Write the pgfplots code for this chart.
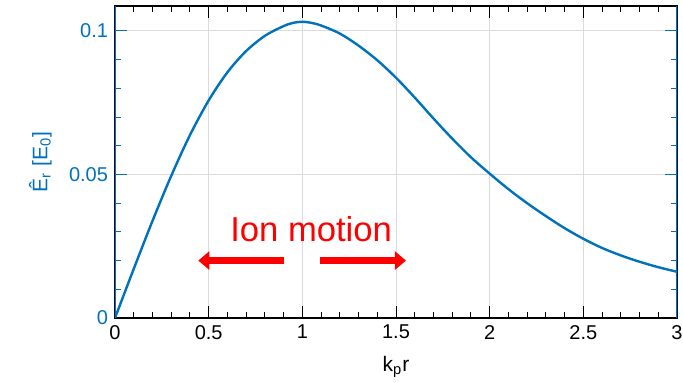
\documentclass[border=0pt]{standalone}
\usepackage{fontspec}
\setmainfont{Liberation Sans}
\usepackage{pgfplots}
\pgfplotsset{compat=1.18}
\usetikzlibrary{arrows.meta}
\definecolor{mblue}{rgb}{0.0,0.447,0.741}
\definecolor{gridgray}{gray}{0.86}
\begin{document}
\begin{tikzpicture}
\begin{axis}[
  scale only axis, width=281pt, height=156pt,
  xmin=0, xmax=3, ymin=0, ymax=0.1087,
  xtick={0,0.5,1,1.5,2,2.5,3},
  xticklabels={0,0.5,1,1.5,2,2.5,3},
  ytick={0,0.05,0.1},
  yticklabels={0,0.05,0.1},
  scaled x ticks=false, scaled y ticks=false,
  minor x tick num=4, minor y tick num=4,
  tick align=inside, xtick pos=both, ytick pos=both,
  xticklabel pos=bottom, yticklabel pos=left,
  major tick length=6pt, minor tick length=3pt,
  grid=major, major grid style={gridgray, line width=0.5pt},
  axis line style={black, line width=0.6pt},
  xtick style={black, line width=0.5pt},
  ytick style={mblue, line width=0.5pt},
  /pgf/number format/assume math mode=true,
  xticklabel style={black, font=\fontsize{10}{12}\selectfont},
  yticklabel style={mblue, font=\fontsize{10}{12}\selectfont},
  xlabel={k\textsubscript{p}r},
  ylabel={Ê\textsubscript{r} [E\textsubscript{0}]},
  xlabel style={font=\fontsize{10.5}{12}\selectfont, at={(axis description cs:0.5,-0.157)}, anchor=center},
  ylabel style={mblue, font=\fontsize{10.5}{12}\selectfont, at={(axis description cs:-0.133,0.5)}, anchor=center, rotate=0},
]
\addplot[mblue, line width=1.2pt, smooth] coordinates {
(0,0) (0.1,0.0171) (0.2,0.0338) (0.3,0.0495) (0.4,0.0637) (0.5,0.0758)
(0.6,0.0856) (0.7,0.0930) (0.8,0.0983) (0.9,0.1017) (0.95,0.1028) (1.0,0.1032)
(1.05,0.1028) (1.1,0.1019) (1.2,0.0991) (1.3,0.0949) (1.4,0.0898) (1.5,0.0837)
(1.6,0.0768) (1.7,0.0695) (1.8,0.0625) (1.9,0.0560) (2.0,0.0503)
(2.1,0.0449) (2.2,0.0400) (2.3,0.0355) (2.4,0.0313) (2.5,0.0276)
(2.6,0.0244) (2.7,0.0218) (2.8,0.0196) (2.9,0.0177) (3.0,0.0161)
};
\draw[red, line width=3.5pt, -{Triangle[length=5.5pt,width=9pt]}] (axis cs:0.9035,0.02) -- (axis cs:0.4446,0.02);
\draw[red, line width=3.5pt, -{Triangle[length=5.5pt,width=9pt]}] (axis cs:1.094,0.02) -- (axis cs:1.553,0.02);
\node[red, anchor=base, font=\fontsize{17.3}{20}\selectfont, inner sep=0pt] at (axis cs:1.047,0.0266) {Ion motion};
\draw[mblue, line width=0.6pt] (rel axis cs:0,0) -- (rel axis cs:0,1);
\draw[mblue, line width=0.6pt] (rel axis cs:1,0) -- (rel axis cs:1,1);
\coordinate (bl) at (rel axis cs:0,0);
\coordinate (tr) at (rel axis cs:1,1);
\end{axis}
\pgfresetboundingbox
\path[use as bounding box] ([shift={(-57.5pt,-32.5pt)}]bl) rectangle ([shift={(3pt,3pt)}]tr);
\end{tikzpicture}
\end{document}
